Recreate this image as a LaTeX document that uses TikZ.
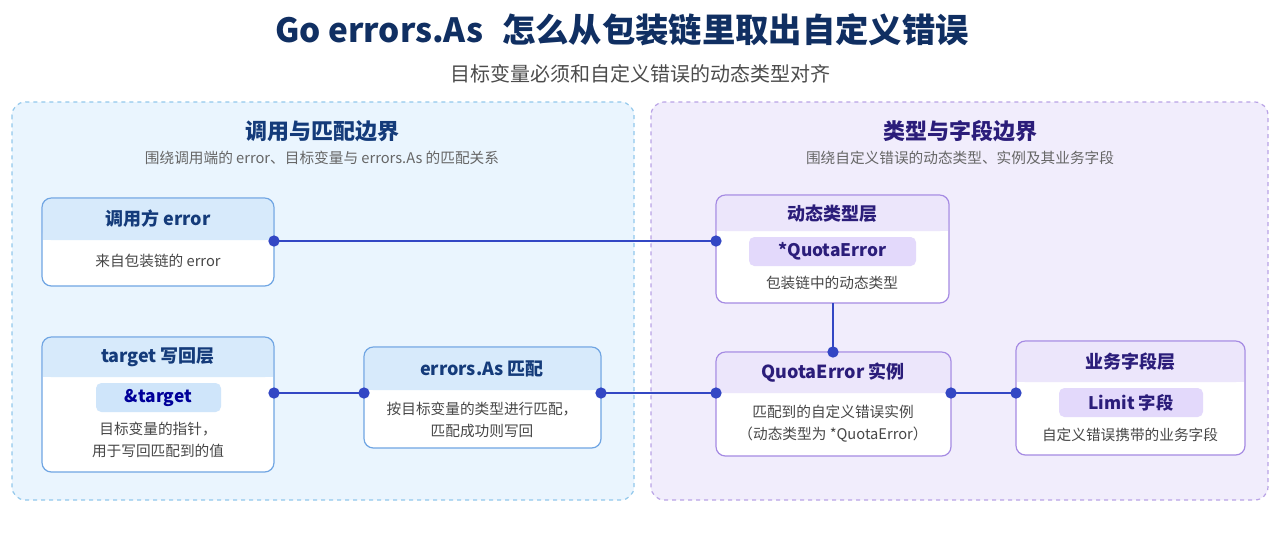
\documentclass[tikz,border=0pt]{standalone}
\usepackage{fontspec}
\setmainfont{Noto Sans CJK SC}
\begin{document}
\begin{tikzpicture}[x=0.75pt,y=-0.75pt,
  panelL/.style={draw=pbL,fill=pfL,dashed,line width=0.9pt,rounded corners=10pt},
  panelR/.style={draw=pbR,fill=pfR,dashed,line width=0.9pt,rounded corners=10pt},
  boxL/.style={draw=bbL,line width=0.9pt,rounded corners=7pt},
  boxR/.style={draw=bbR,line width=0.9pt,rounded corners=7pt},
  hd/.style={font=\bfseries\fontsize{13.5}{16}\selectfont},
  bd/.style={font=\fontsize{11}{16.5}\selectfont,text=black!72,align=center},
  pill/.style={rounded corners=4pt,font=\bfseries\fontsize{13}{15}\selectfont},
  con/.style={line width=2pt,draw=cc},
  dot/.style={circle,fill=cc,inner sep=0pt,minimum size=8.5pt}]
\definecolor{hdL}{HTML}{D7EAFB}\definecolor{hdR}{HTML}{ECE6FB}
\definecolor{tL}{HTML}{143B7A}\definecolor{tR}{HTML}{2B1D7A}
\definecolor{pL}{HTML}{CFE5FA}\definecolor{pR}{HTML}{E3D9FB}
\definecolor{pbL}{HTML}{92C8EC}\definecolor{pfL}{HTML}{EAF5FE}
\definecolor{pbR}{HTML}{B9A3E6}\definecolor{pfR}{HTML}{F1EDFC}
\definecolor{bbL}{HTML}{6FA5E3}\definecolor{bbR}{HTML}{A58AE3}
\definecolor{cc}{HTML}{3347C4}
\useasboundingbox[fill=white] (0,0) rectangle (1280,533);
\node[font=\bfseries\fontsize{25}{28}\selectfont,text=tL!80!black] (title) at (622,30) {Go errors.As\,\, 怎么从包装链里取出自定义错误};
\node[font=\fontsize{15}{18}\selectfont,text=black!70] (sub) at (640,74) {目标变量必须和自定义错误的动态类型对齐};
\draw[panelL] (12,102) rectangle (634,500);
\draw[panelR] (651,102) rectangle (1268,500);
\node[font=\bfseries\fontsize{16.5}{20}\selectfont,text=tL] (lt) at (322,131) {调用与匹配边界};
\node[font=\fontsize{11}{13}\selectfont,text=black!60] (ls) at (322,158) {围绕调用端的 error、目标变量与 errors.As 的匹配关系};
\node[font=\bfseries\fontsize{16.5}{20}\selectfont,text=tR] (rt) at (960,131) {类型与字段边界};
\node[font=\fontsize{11}{13}\selectfont,text=black!60] (rs) at (960,158) {围绕自定义错误的动态类型、实例及其业务字段};
% caller
\fill[white,rounded corners=7pt] (42,198) rectangle (274,286);
\fill[hdL,rounded corners=6.3pt] (42.6,198.6) rectangle (273.4,240);
\fill[hdL] (42.6,225) rectangle (273.4,240);
\draw[boxL] (42,198) rectangle (274,286);
\node[hd,text=tL] (callerh) at (158,219) {调用方 error};
\node[bd] (callerb) at (158,261) {来自包装链的 error};
% target
\fill[white,rounded corners=7pt] (42,337) rectangle (274,472);
\fill[hdL,rounded corners=6.3pt] (42.6,337.6) rectangle (273.4,377);
\fill[hdL] (42.6,362) rectangle (273.4,377);
\draw[boxL] (42,337) rectangle (274,472);
\node[hd,text=tL] (targeth) at (158,357) {target 写回层};
\fill[pL,rounded corners=4pt] (96,383) rectangle (221,412);
\node[pill,text=blue!60!black] (tpill) at (158.5,397.5) {\&target};
\node[bd] (targetb) at (158,440) {目标变量的指针，\\用于写回匹配到的值};
% match
\fill[white,rounded corners=7pt] (364,347) rectangle (601,448);
\fill[hdL,rounded corners=6.3pt] (364.6,347.6) rectangle (600.4,390);
\fill[hdL] (364.6,375) rectangle (600.4,390);
\draw[boxL] (364,347) rectangle (601,448);
\node[hd,text=tL] (matchh) at (482,369) {errors.As 匹配};
\node[bd] (matchb) at (482,420) {按目标变量的类型进行匹配，\\匹配成功则写回};
% dyn
\fill[white,rounded corners=7pt] (716,195) rectangle (949,303);
\fill[hdR,rounded corners=6.3pt] (716.6,195.6) rectangle (948.4,231);
\fill[hdR] (716.6,215) rectangle (948.4,231);
\draw[boxR] (716,195) rectangle (949,303);
\node[hd,text=tR] (dynh) at (832,214) {动态类型层};
\fill[pR,rounded corners=4pt] (749,237) rectangle (916,266);
\node[pill,text=tR] (dpill) at (832.5,251.5) {*QuotaError};
\node[bd] (dynb) at (832,283) {包装链中的动态类型};
% inst
\fill[white,rounded corners=7pt] (716,352) rectangle (951,456);
\fill[hdR,rounded corners=6.3pt] (716.6,352.6) rectangle (950.4,393);
\fill[hdR] (716.6,378) rectangle (950.4,393);
\draw[boxR] (716,352) rectangle (951,456);
\node[hd,text=tR] (insth) at (833,373) {QuotaError 实例};
\node[bd] (instb) at (833,424) {匹配到的自定义错误实例\\（动态类型为 *QuotaError）};
% field
\fill[white,rounded corners=7pt] (1016,341) rectangle (1245,455);
\fill[hdR,rounded corners=6.3pt] (1016.6,341.6) rectangle (1244.4,382);
\fill[hdR] (1016.6,367) rectangle (1244.4,382);
\draw[boxR] (1016,341) rectangle (1245,455);
\node[hd,text=tR] (fieldh) at (1130,362) {业务字段层};
\fill[pR,rounded corners=4pt] (1059,388) rectangle (1203,417);
\node[pill,text=tR] (fpill) at (1131,402.5) {Limit 字段};
\node[bd] (fieldb) at (1130,435) {自定义错误携带的业务字段};
% connectors
\coordinate (cR) at (274,241); \coordinate (dL) at (716,241);
\coordinate (tRt) at (274,393); \coordinate (mL) at (364,393);
\coordinate (mR) at (601,393); \coordinate (iL) at (716,393);
\coordinate (dB) at (833,303); \coordinate (iT) at (833,352);
\coordinate (iR) at (951,393); \coordinate (fL) at (1016,393);
\draw[con] (cR) -- (dL);
\draw[con] (tRt) -- (mL);
\draw[con] (mR) -- (iL);
\draw[con] (dB) -- (iT);
\draw[con] (iR) -- (fL);
\foreach \p in {cR,dL,tRt,mL,mR,iL,iT,iR,fL} \node[dot] at (\p) {};
\end{tikzpicture}
\end{document}
